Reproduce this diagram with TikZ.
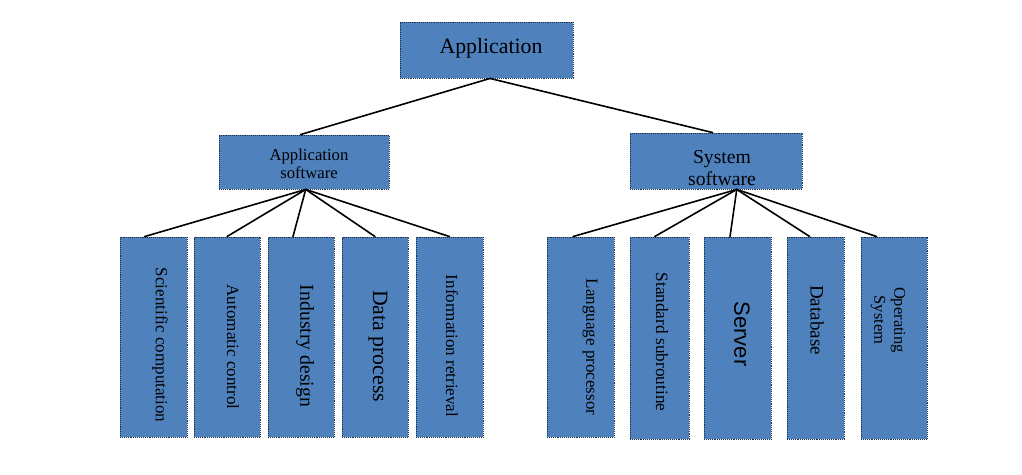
\documentclass[tikz,border=0pt]{standalone}
\usepackage{fontspec}
\setmainfont{Liberation Serif}
\newfontfamily\arialf{Liberation Sans}
\usetikzlibrary{calc}
\definecolor{boxblue}{HTML}{4F81BD}
\definecolor{boxline}{HTML}{1F2F45}
\tikzset{
  blk/.style={draw=boxline, densely dotted, line width=0.9pt, fill=boxblue, inner sep=0pt},
  lbl/.style={inner sep=0pt, text=black, align=center},
  vlbl/.style={lbl, rotate=-90},
  conn/.style={line width=1.6pt, black, line cap=round},
}
\newcommand{\fs}[2]{\fontsize{#1}{#2}\selectfont}
\begin{document}
\begin{tikzpicture}[x=1pt,y=-1pt]
\useasboundingbox (0,0) rectangle (1022,474);
% top
\node[blk, minimum width=173pt, minimum height=56pt] (top) at (486.5,50) {};
\node[lbl, font=\fs{21.8}{24}] (ttop) at (491,48) {Application};
% second level
\node[blk, minimum width=170pt, minimum height=54pt] (as) at (304,162) {};
\node[lbl, font=\fs{16.7}{18}] (tas) at (309,164) {Application\\software};
\node[blk, minimum width=172pt, minimum height=56pt] (ss) at (716,161) {};
\node[lbl, font=\fs{19.7}{22}] (tss) at (722,168) {System\\software};
% bottom left
\node[blk, minimum width=67pt, minimum height=200pt] (a1) at (153.5,337) {};
\node[blk, minimum width=66pt, minimum height=200pt] (a2) at (227,337) {};
\node[blk, minimum width=66pt, minimum height=200pt] (a3) at (301,337) {};
\node[blk, minimum width=66pt, minimum height=200pt] (a4) at (375,337) {};
\node[blk, minimum width=67pt, minimum height=200pt] (a5) at (449.5,337) {};
\node[vlbl, font=\fs{17}{20}] (ta1) at (160,345) {Scientific computation};
\node[vlbl, font=\fs{17.1}{20}] (ta2) at (233,347) {Automatic control};
\node[vlbl, font=\fs{19.7}{22}] (ta3) at (305,346) {Industry design};
\node[vlbl, font=\fs{21.8}{24}] (ta4) at (378,346) {Data process};
\node[vlbl, font=\fs{17}{20}] (ta5) at (452,346) {Information retrieval};
% bottom right
\node[blk, minimum width=67pt, minimum height=200pt] (s1) at (580.5,337) {};
\node[blk, minimum width=59pt, minimum height=202pt] (s2) at (659.5,338) {};
\node[blk, minimum width=67pt, minimum height=202pt] (s3) at (737.5,338) {};
\node[blk, minimum width=57pt, minimum height=202pt] (s4) at (815.5,338) {};
\node[blk, minimum width=66pt, minimum height=202pt] (s5) at (894,338) {};
\node[vlbl, font=\fs{17}{20}] (ts1) at (590,347) {Language processor};
\node[vlbl, font=\fs{17.3}{20}] (ts2) at (662,342) {Standard subroutine};
\node[vlbl, font=\arialf\fs{22}{24}] (ts3) at (742,334) {Server};
\node[vlbl, font=\fs{19}{22}] (ts4) at (817,320) {Database};
\node[vlbl, font=\fs{16.5}{20}] (ts5) at (888,320) {Operating\\System};
% connectors
\coordinate (topb) at ($(top.south west)!0.52!(top.south east)$);
\draw[conn] (topb) -- ($(as.north west)!0.48!(as.north east)$);
\draw[conn] (topb) -- ($(ss.north west)!0.48!(ss.north east)$);
\coordinate (asb) at ($(as.south west)!0.51!(as.south east)$);
\draw[conn] (asb) -- ($(a1.north west)!0.37!(a1.north east)$);
\draw[conn] (asb) -- ($(a2.north west)!0.5!(a2.north east)$);
\draw[conn] (asb) -- ($(a3.north west)!0.38!(a3.north east)$);
\draw[conn] (asb) -- ($(a4.north west)!0.5!(a4.north east)$);
\draw[conn] (asb) -- ($(a5.north west)!0.5!(a5.north east)$);
\coordinate (ssb) at ($(ss.south west)!0.62!(ss.south east)$);
\draw[conn] (ssb) -- ($(s1.north west)!0.39!(s1.north east)$);
\draw[conn] (ssb) -- ($(s2.north west)!0.42!(s2.north east)$);
\draw[conn] (ssb) -- ($(s3.north west)!0.39!(s3.north east)$);
\draw[conn] (ssb) -- ($(s4.north west)!0.4!(s4.north east)$);
\draw[conn] (ssb) -- ($(s5.north west)!0.24!(s5.north east)$);
\end{tikzpicture}
\end{document}
